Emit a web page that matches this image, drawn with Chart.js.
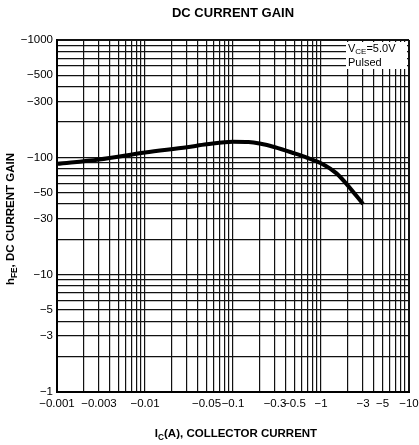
<!DOCTYPE html>
<html>
<head>
<meta charset="utf-8">
<script src="https://cdn.jsdelivr.net/npm/chart.js@4/dist/chart.umd.min.js"></script>
<style>
  html, body { margin: 0; padding: 0; background: #fff; }
  canvas { display: block; }
</style>
</head>
<body>
<canvas id="chart" width="419" height="445"></canvas>
<script>
// collector current (A, magnitude) and DC current gain (magnitude)
const currentA = [0.001, 0.003, 0.01, 0.03, 0.05, 0.1, 0.15, 0.2, 0.3, 0.5, 0.7, 1, 1.5, 2, 3];
const hfe = [88, 96, 110, 122, 129, 136, 135, 131, 122, 108, 99, 89, 73, 58, 40];

const xTickLabels = [0.001, 0.003, 0.01, 0.05, 0.1, 0.3, 0.5, 1, 3, 5, 10];
const yTickLabels = [1, 3, 5, 10, 30, 50, 100, 300, 500, 1000];

const FONT = '"Liberation Sans", Arial, sans-serif';

function logGrid(min, max) {
  const out = [];
  for (let d = min; d < max * 0.999; d *= 10) {
    for (let m = 1; m <= 9; m++) out.push({ value: +(d * m).toPrecision(3) });
  }
  out.push({ value: max });
  return out;
}

function hasLabel(list, v) {
  return list.some(t => Math.abs(t - v) / t < 1e-6);
}

// draws text pieces, some as subscripts
function drawParts(ctx, parts, x, y, size, align) {
  let total = 0;
  parts.forEach(p => {
    ctx.font = 'bold ' + (p.sub ? size * 0.72 : size) + 'px ' + FONT;
    p.w = ctx.measureText(p.t).width;
    total += p.w;
  });
  let cx = align === 'center' ? x - total / 2 : x;
  parts.forEach(p => {
    ctx.font = 'bold ' + (p.sub ? size * 0.72 : size) + 'px ' + FONT;
    ctx.fillText(p.t, cx, p.sub ? y + size * 0.3 : y);
    cx += p.w;
  });
}

const textPlugin = {
  id: 'texts',
  afterDraw(chart) {
    const ctx = chart.ctx;
    const a = chart.chartArea;
    ctx.save();
    ctx.fillStyle = '#000';
    ctx.textBaseline = 'alphabetic';
    ctx.textAlign = 'left';

    // main title
    drawParts(ctx, [{ t: 'DC CURRENT GAIN' }], 233, 17, 13, 'center');

    // x axis title
    drawParts(ctx, [{ t: 'I' }, { t: 'C', sub: true }, { t: '(A), COLLECTOR CURRENT' }], 236, 437, 11.5, 'center');

    // y axis title
    ctx.save();
    ctx.translate(14, 219);
    ctx.rotate(-Math.PI / 2);
    drawParts(ctx, [{ t: 'h' }, { t: 'FE', sub: true }, { t: ', DC CURRENT GAIN' }], 0, 0, 11.5, 'center');
    ctx.restore();

    // condition note
    ctx.fillStyle = '#fff';
    ctx.fillRect(346, a.top + 2, a.right - 348, 27);
    ctx.fillStyle = '#000';
    ctx.font = '11px ' + FONT;
    ctx.fillText('V', 348, a.top + 12);
    let w = ctx.measureText('V').width;
    ctx.font = '8px ' + FONT;
    ctx.fillText('CE', 348 + w, a.top + 14);
    w += ctx.measureText('CE').width;
    ctx.font = '11px ' + FONT;
    ctx.fillText('=5.0V', 348 + w, a.top + 12);
    ctx.fillText('Pulsed', 348, a.top + 26);
    ctx.restore();
  }
};

const gridColor = '#111';

new Chart(document.getElementById('chart'), {
  type: 'line',
  data: {
    datasets: [{
      data: currentA.map((x, i) => ({ x: x, y: hfe[i] })),
      borderColor: '#000',
      borderWidth: 4,
      pointRadius: 0,
      fill: false,
      cubicInterpolationMode: 'monotone'
    }]
  },
  options: {
    responsive: false,
    animation: false,
    layout: { padding: { top: 40, right: 10, left: 0, bottom: 0 } },
    plugins: {
      legend: { display: false },
      tooltip: { enabled: false },
      title: { display: false }
    },
    scales: {
      x: {
        type: 'logarithmic',
        min: 0.001,
        max: 10,
        afterBuildTicks: s => { s.ticks = logGrid(0.001, 10); },
        afterFit: s => { s.height = 53; s.paddingLeft = 0; s.paddingRight = 0; },
        border: { color: '#000', width: 2 },
        grid: {
          color: gridColor,
          lineWidth: c => (c.index === 0 || c.tick.value === 10) ? 2 : 1.2,
          drawTicks: false
        },
        ticks: {
          autoSkip: false,
          maxRotation: 0,
          minRotation: 0,
          padding: 5,
          color: '#000',
          font: { family: FONT, size: 11.5 },
          callback: v => hasLabel(xTickLabels, v) ? '\u2212' + v : ''
        }
      },
      y: {
        type: 'logarithmic',
        min: 1,
        max: 1000,
        afterBuildTicks: s => { s.ticks = logGrid(1, 1000); },
        afterFit: s => { s.width = 57; s.paddingTop = 0; s.paddingBottom = 0; },
        border: { color: '#000', width: 2 },
        grid: {
          color: gridColor,
          lineWidth: c => (c.index === 0 || c.tick.value === 1000) ? 2 : 1.2,
          drawTicks: false
        },
        ticks: {
          autoSkip: false,
          padding: 4,
          color: '#000',
          font: { family: FONT, size: 11.5 },
          callback: v => hasLabel(yTickLabels, v) ? '\u2212' + v : ''
        }
      }
    }
  },
  plugins: [textPlugin]
});
</script>
</body>
</html>
